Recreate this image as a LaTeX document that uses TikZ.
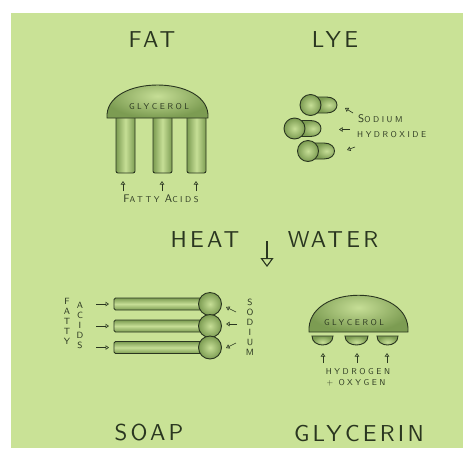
\documentclass[tikz,border=0pt]{standalone}
\usepackage{fontspec}
\usetikzlibrary{arrows.meta}
\newfontfamily\titlefont[LetterSpace=14]{lmsans10-regular.otf}
\newfontfamily\tagfont[LetterSpace=30]{lmsans10-regular.otf}
\definecolor{pagegreen}{RGB}{201,226,150}
\definecolor{ink}{RGB}{42,54,32}
\definecolor{leaf}{RGB}{198,222,150}
\definecolor{moss}{RGB}{124,156,82}
\newcommand\initcap[1]{{\fontsize{11}{11}\selectfont #1}}
\tikzset{
  title/.style={font=\titlefont\fontsize{23}{25}\selectfont, text=ink, inner sep=0pt},
  tag/.style={font=\tagfont\fontsize{8.5}{9}\selectfont, text=ink, inner sep=0pt},
  upright tag/.style={font=\sffamily\fontsize{9}{10}\selectfont, text=ink, align=center, inner sep=0pt},
  blob/.style={draw=ink, line width=0.9pt, inner color=leaf, outer color=moss},
  pillar/.style={draw=ink, line width=0.9pt, left color=moss, right color=moss, middle color=leaf, rounded corners=2pt},
  rod/.style={draw=ink, line width=0.9pt, top color=moss, bottom color=moss, middle color=leaf, rounded corners=1.5pt},
  pointer/.style={ink, line width=0.6pt, -{Triangle[open, length=3.5pt, width=4.5pt]}},
}

\begin{document}
\begin{tikzpicture}[x=1pt, y=-1pt]
\useasboundingbox (0,0) rectangle (463,448);
\fill[white] (0,0) rectangle (463,448);
\fill[pagegreen] (11,13) rectangle (463,448);

\node[title] (fat) at (152,40) {FAT};
\node[title] (lye) at (335,40) {LYE};

% fat: glycerol head with three fatty acid tails
\foreach \x in {116,153,187}
  \draw[pillar] (\x,112) rectangle (\x+19,173);
\draw[blob] (107,118) .. controls (104,74) and (211,74) .. (208,118) -- cycle;
\node[tag] (glycerolA) at (159,107) {GLYCEROL};
\foreach \x in {123,162,196}
  \draw[pointer] (\x,191) -- (\x,181);
\node[tag] (fattyacids) at (161,199) {\initcap{F}ATTY \initcap{A}CIDS};

% lye: sodium hydroxide pairs
\foreach \cx/\cy in {310.5/105, 294.5/128.5, 308/151}
  {
    \draw[blob] (\cx+7,\cy-8) -- (\cx+16,\cy-8) .. controls (\cx+30,\cy-8) and (\cx+30,\cy+8) .. (\cx+16,\cy+8) -- (\cx+7,\cy+8) -- cycle;
    \draw[blob] (\cx,\cy) circle (10.5);
  }
\draw[pointer] (353,113) -- (345,108);
\draw[pointer] (350,129.5) -- (339,129.5);
\draw[pointer] (355,147) -- (347,150);
\node[tag, anchor=west] (sodiumA) at (358,119) {\initcap{S}ODIUM};
\node[tag, anchor=west] (hydroxide) at (357,135) {HYDROXIDE};

% reaction step
\node[title] (heat) at (205,240) {HEAT};
\node[title] (water) at (333,240) {WATER};
\draw[ink, line width=1.1pt, -{Triangle[open, length=9pt, width=13pt]}] (267,241) -- (267,267);

% soap: sodium heads on fatty acid tails
\foreach \y in {304,326,347.5}
  {
    \draw[rod] (114,\y-6) rectangle (204,\y+6);
    \draw[blob] (210,\y) circle (11.5);
    \draw[pointer] (96,\y) -- (109,\y);
  }
\draw[pointer] (236,312) -- (226,307);
\draw[pointer] (237,324) -- (226,324);
\draw[pointer] (236,343) -- (226,348);
\node[upright tag] (fattyV) at (67,321) {F\\A\\T\\T\\Y};
\node[upright tag] (acidsV) at (80,325) {A\\C\\I\\D\\S};
\node[upright tag] (sodiumV) at (250,327) {S\\O\\D\\I\\U\\M};

% glycerin: glycerol head with hydrogen + oxygen
\draw[blob] (309,332) .. controls (306,283) and (411,283) .. (408,332) -- cycle;
\node[tag] (glycerolB) at (354,323) {GLYCEROL};
\foreach \xa/\xb in {312/333, 345/368, 377/398}
  \draw[blob] (\xa,336) .. controls (\xa,348) and (\xb,348) .. (\xb,336) -- cycle;
\foreach \x in {323,357,387}
  \draw[pointer] (\x,363) -- (\x,353);
\node[tag] (hydrogen) at (358,372) {HYDROGEN};
\node[tag] (oxygen) at (356,383) {+ OXYGEN};

\node[title] (soap) at (149,433) {SOAP};
\node[title] (glycerin) at (359,433) {GLYCERIN};
\end{tikzpicture}
\end{document}
